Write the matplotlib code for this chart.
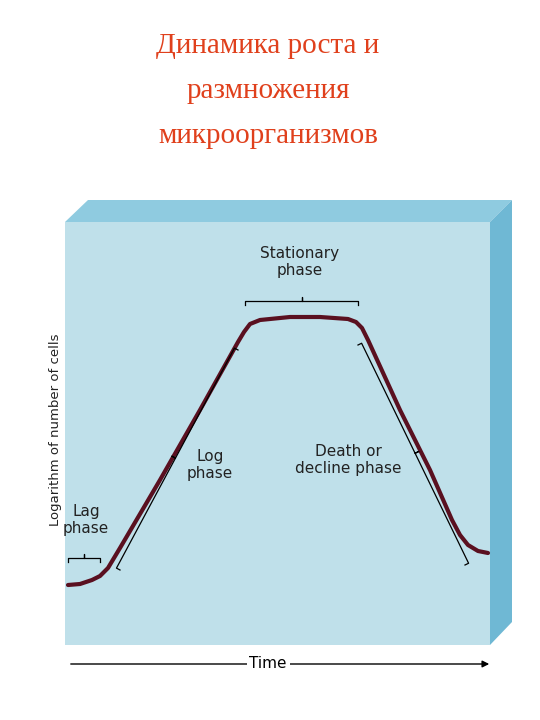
import numpy as np
import matplotlib.pyplot as plt
from matplotlib.patches import Polygon

title_lines = ['Динамика роста и', 'размножения', 'микроорганизмов']
# growth curve, read in picture pixels (x right, y down)
curve_x = [68, 80, 92, 100, 108, 120, 160, 200, 238, 244, 250, 260, 290, 320, 348, 356, 362, 368, 400, 430, 452, 460, 468, 478, 488]
curve_y = [585, 584, 580, 576, 568, 548, 480, 410, 342, 332, 324, 320, 317, 317, 319, 322, 328, 340, 410, 470, 520, 535, 545, 551, 553]
phase_labels = [('Lag\nphase', 86, 520), ('Log\nphase', 210, 465),
                ('Stationary\nphase', 300, 262), ('Death or\ndecline phase', 348, 460)]

fig = plt.figure(figsize=(5.4, 7.2), dpi=100)
ax = fig.add_axes([0, 0, 1, 1])
ax.set_xlim(0, 540)
ax.set_ylim(720, 0)
ax.axis('off')

for i, t in enumerate(title_lines):
    ax.text(268, 46 + i * 45, t, ha='center', va='center', color='#e0401c',
            fontsize=21, family='Liberation Serif')

# 3D panel: front, top, right
ax.add_patch(Polygon([[65, 222], [490, 222], [490, 645], [65, 645]], closed=True,
                     facecolor='#bfe0ea', edgecolor='none'))
ax.add_patch(Polygon([[65, 222], [88, 200], [512, 200], [490, 222]], closed=True,
                     facecolor='#8fcbe0', edgecolor='none'))
ax.add_patch(Polygon([[490, 222], [512, 200], [512, 622], [490, 645]], closed=True,
                     facecolor='#6fb8d4', edgecolor='none'))

ax.plot(curve_x, curve_y, color='#5a1020', lw=3, solid_capstyle='round',
        solid_joinstyle='round')

# brackets
def brace(x0, y0, x1, y1, off):
    dx, dy = x1 - x0, y1 - y0
    L = np.hypot(dx, dy)
    nx, ny = -dy / L * off, dx / L * off
    mx, my = (x0 + x1) / 2, (y0 + y1) / 2
    ax.plot([x0, x0 + nx, mx + nx, mx + 2 * nx, mx + nx, x1 + nx, x1],
            [y0, y0 + ny, my + ny, my + 2 * ny, my + ny, y1 + ny, y1],
            color='black', lw=0.9)

brace(68, 562, 100, 562, -4)
brace(120, 570, 238, 350, -4)
brace(245, 305, 358, 305, -4)
brace(358, 345, 465, 565, -4)

for txt, x, y in phase_labels:
    ax.text(x, y, txt, ha='center', va='center', fontsize=11, color='#222222',
            family='DejaVu Sans', linespacing=1.1)

ax.text(56, 430, 'Logarithm of number of cells', rotation=90, ha='center', va='center',
        fontsize=9.5, color='#222222')
ax.annotate('', xy=(492, 664), xytext=(68, 664),
            arrowprops=dict(arrowstyle='-|>', color='black', lw=1))
ax.text(268, 664, 'Time', ha='center', va='center', fontsize=11,
        bbox=dict(facecolor='white', edgecolor='none', pad=2))

fig.savefig('out.png', dpi=100)
